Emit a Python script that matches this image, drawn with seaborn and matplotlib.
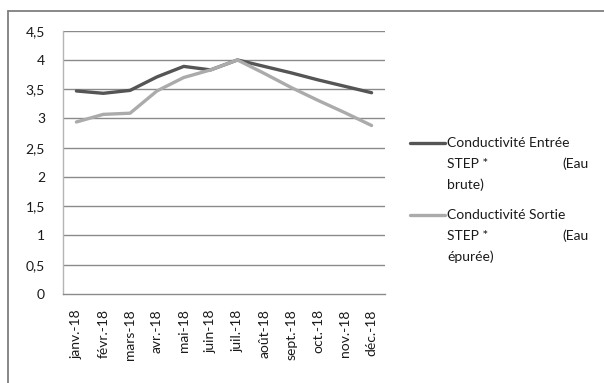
import matplotlib
matplotlib.use("Agg")
import matplotlib.pyplot as plt
import seaborn as sns
import pandas as pd
import numpy as np
from matplotlib.lines import Line2D
from matplotlib.ticker import FixedLocator, FuncFormatter

# Monthly conductivity at the treatment plant (STEP), 2018
months = ["janv.-18", "févr.-18", "mars-18", "avr.-18", "mai-18", "juin-18",
          "juil.-18", "août-18", "sept.-18", "oct.-18", "nov.-18", "déc.-18"]
entree = [3.47, 3.43, 3.48, 3.71, 3.89, 3.83, 4.00, 3.89, 3.78, 3.66, 3.55, 3.44]
sortie = [2.94, 3.07, 3.09, 3.47, 3.70, 3.83, 4.00, 3.77, 3.53, 3.31, 3.10, 2.88]
series_names = ["Conductivité Entrée STEP * (Eau brute)",
                "Conductivité Sortie STEP * (Eau épurée)"]
# legend labels, broken over three justified lines
legend_lines = [
    ("Conductivité Entrée", "STEP *", "(Eau", "brute)"),
    ("Conductivité Sortie", "STEP *", "(Eau", "épurée)"),
]
colors = ["#555555", "#ababab"]

df = pd.DataFrame({
    "mois": months * 2,
    "valeur": entree + sortie,
    "serie": [series_names[0]] * len(months) + [series_names[1]] * len(months),
})

sns.set_style("white")
plt.rcParams["font.family"] = ["Lato", "DejaVu Sans"]
FS = 10
TXT = "#1a1a1a"

W, H = 604, 383
fig = plt.figure(figsize=(W / 100, H / 100), dpi=100)
ax = fig.add_axes([63 / W, 1 - 294 / H, (385 - 63) / W, (294 - 30.7) / H])

sns.lineplot(data=df, x="mois", y="valeur", hue="serie", palette=colors,
             linewidth=2.4, ax=ax, sort=False, legend=False)

ax.set_xlim(-0.5, len(months) - 0.5)
ax.set_ylim(0, 4.5)
ax.set_xlabel("")
ax.set_ylabel("")

grid_c = "#8a8a8a"
axis_c = "#b4b4b4"
yt = np.arange(0, 4.51, 0.5)
ax.set_yticks(yt)
ax.yaxis.set_major_formatter(FuncFormatter(lambda v, p: f"{v:g}".replace(".", ",")))
for v in yt[1:]:
    ax.axhline(v, color=grid_c, lw=1.0, zorder=0)

for s in ["top", "right"]:
    ax.spines[s].set_visible(False)
ax.spines["left"].set_color(axis_c)
ax.spines["left"].set_linewidth(1.0)
ax.spines["bottom"].set_color(grid_c)
ax.spines["bottom"].set_linewidth(1.0)

ax.set_xticks(range(len(months)))
ax.set_xticklabels(months, rotation=90, fontsize=FS, color=TXT)
ax.xaxis.set_minor_locator(FixedLocator(np.arange(-0.5, len(months), 1.0)))
ax.tick_params(axis="x", which="major", length=0, pad=11)
ax.tick_params(axis="x", which="minor", length=5, color=grid_c, width=1.0, direction="out")
ax.tick_params(axis="y", length=6, color=grid_c, width=1.0, labelsize=FS,
               labelcolor=TXT, pad=7, direction="out")

# legend: handle beside the first line of each label
def fy(py):
    return 1 - py / H

for (l1, l2a, l2b, l3), c, y0 in zip(legend_lines, colors, [143, 215]):
    fig.add_artist(Line2D([410 / W, 445 / W], [fy(y0), fy(y0)], color=c, lw=2.4,
                          transform=fig.transFigure))
    fig.text(447 / W, fy(y0), l1, fontsize=FS, color=TXT, va="center", ha="left")
    fig.text(447 / W, fy(y0 + 21), l2a, fontsize=FS, color=TXT, va="center", ha="left")
    fig.text(589 / W, fy(y0 + 21), l2b, fontsize=FS, color=TXT, va="center", ha="right")
    fig.text(447 / W, fy(y0 + 41.5), l3, fontsize=FS, color=TXT, va="center", ha="left")

# page frame around the chart
fig.add_artist(Line2D([8 / W, 8 / W], [0, fy(11)], color="#7f7f7f", lw=1.3,
                      transform=fig.transFigure))
fig.add_artist(Line2D([8 / W, 1], [fy(11), fy(11)], color="#7f7f7f", lw=1.3,
                      transform=fig.transFigure))

fig.savefig("out.png", dpi=100)
